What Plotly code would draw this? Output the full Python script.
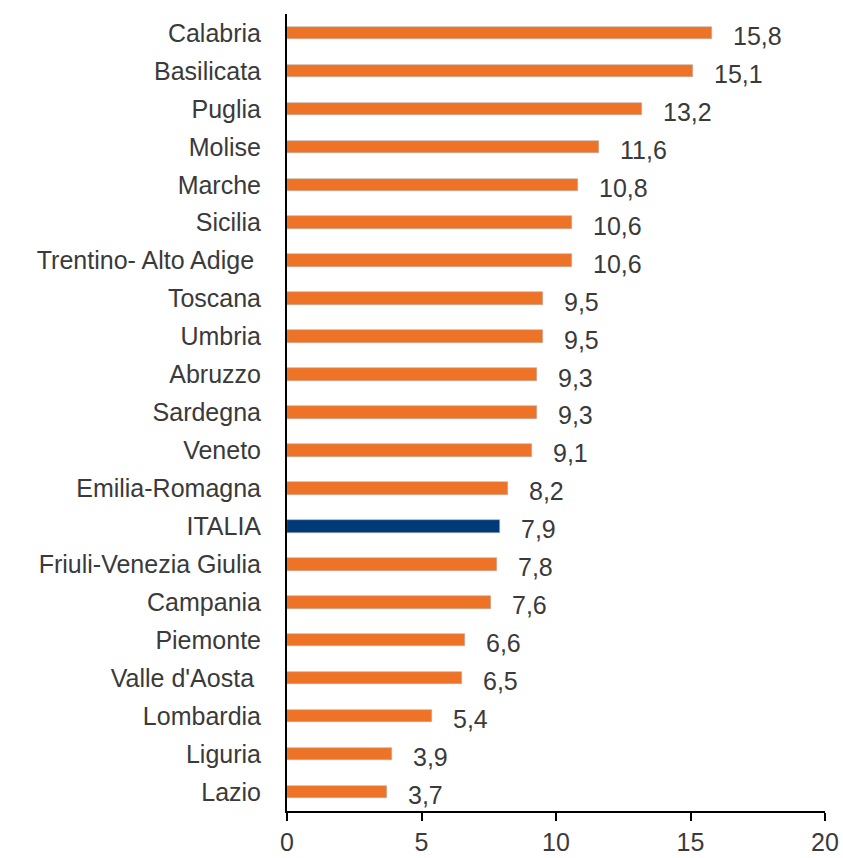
import plotly.graph_objects as go

regions = ["Calabria", "Basilicata", "Puglia", "Molise", "Marche", "Sicilia",
           "Trentino- Alto Adige ", "Toscana", "Umbria", "Abruzzo", "Sardegna",
           "Veneto", "Emilia-Romagna", "ITALIA", "Friuli-Venezia Giulia",
           "Campania", "Piemonte", "Valle d'Aosta ", "Lombardia", "Liguria", "Lazio"]
values = [15.8, 15.1, 13.2, 11.6, 10.8, 10.6, 10.6, 9.5, 9.5, 9.3, 9.3, 9.1,
          8.2, 7.9, 7.8, 7.6, 6.6, 6.5, 5.4, 3.9, 3.7]
x_ticks = [0, 5, 10, 15, 20]

ORANGE = "#EE7326"
NAVY = "#003A78"
colors = [NAVY if r == "ITALIA" else ORANGE for r in regions]
labels = [f"{v:.1f}".replace(".", ",") for v in values]

font_family = "'Liberation Sans', Arial, sans-serif"
TXT = "#3A3A3A"
FS = 25

fig = go.Figure(go.Bar(
    x=values, y=regions, orientation="h",
    marker=dict(color=colors, line=dict(color="#B0B0B0", width=0.6)),
    width=0.33,
))

for r, v, t in zip(regions, values, labels):
    fig.add_annotation(x=v, y=r, text=t, showarrow=False, xanchor="left",
                       xshift=19, yshift=-3,
                       font=dict(size=FS, color=TXT, family=font_family))

fig.update_layout(
    width=843, height=858,
    margin=dict(l=287, r=18, t=14, b=47),
    plot_bgcolor="white", paper_bgcolor="white",
    showlegend=False,
    font=dict(family=font_family, size=FS, color=TXT),
    bargap=0,
)
fig.update_xaxes(range=[0, 20], tickvals=x_ticks, showgrid=False, zeroline=False,
                 showline=True, linecolor="black", linewidth=2,
                 ticks="outside", ticklen=8, tickwidth=2, tickcolor="black",
                 ticklabeloverflow="allow", automargin=False,
                 tickfont=dict(size=FS, color=TXT))
fig.update_yaxes(categoryorder="array", categoryarray=regions[::-1],
                 showgrid=False, zeroline=False, showline=True,
                 linecolor="black", linewidth=2, ticks="", ticklabelstandoff=19,
                 automargin=False,
                 tickfont=dict(size=FS, color=TXT))

fig.write_html(
    "out.html",
    config={"displayModeBar": False},
    post_script="document.body.style.margin='0';document.body.style.overflow='hidden';",
)
